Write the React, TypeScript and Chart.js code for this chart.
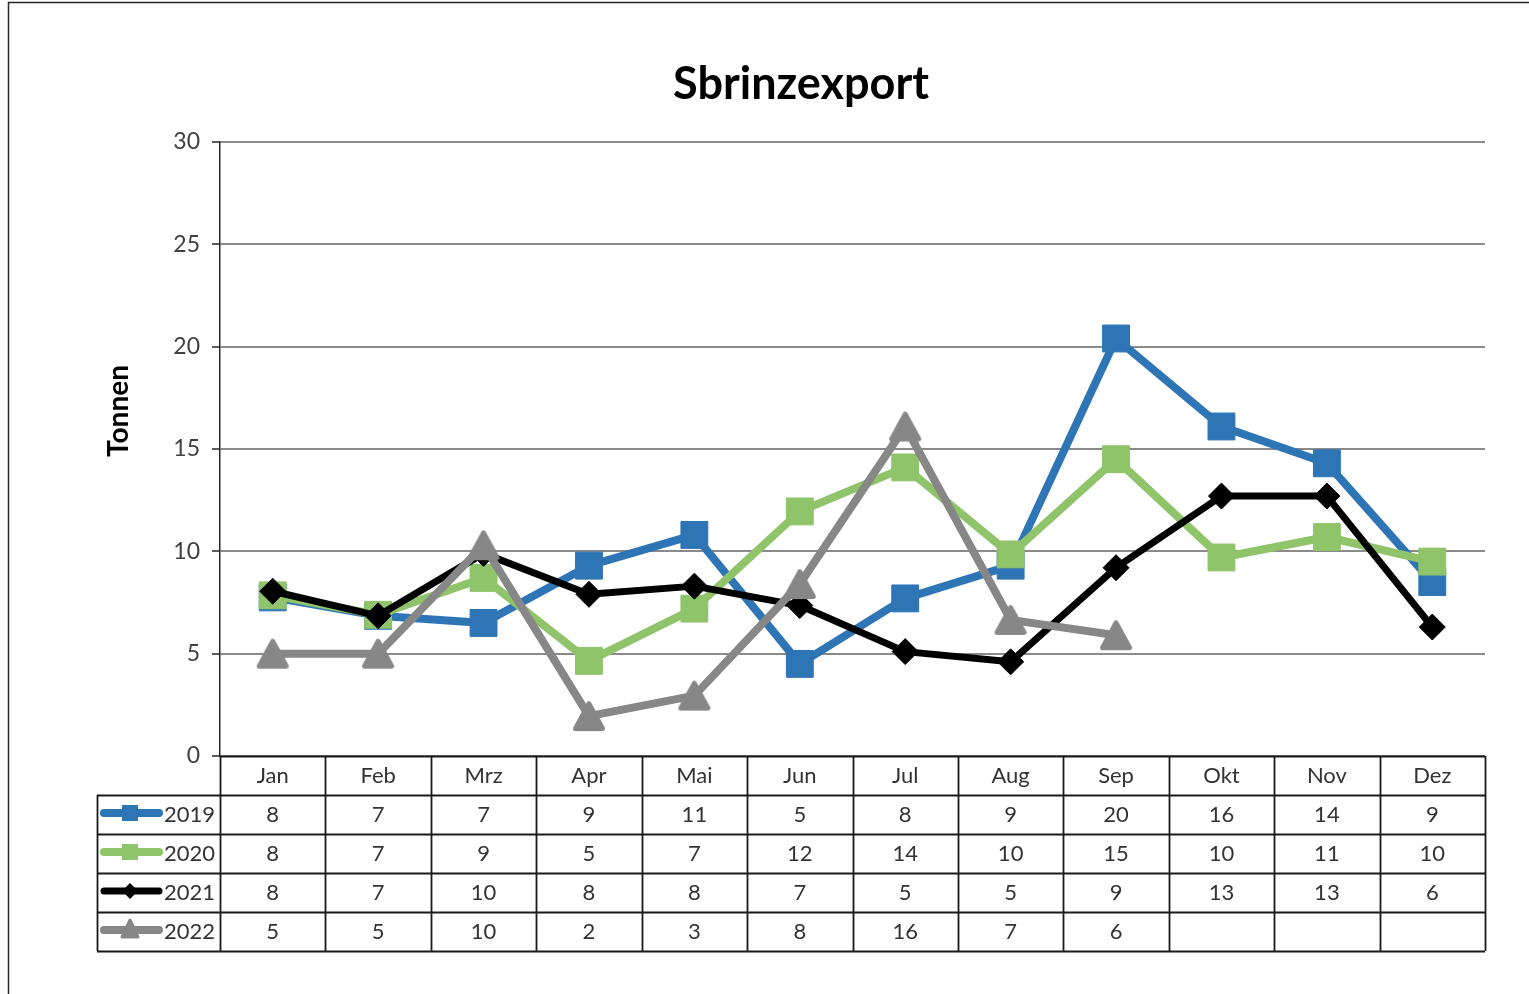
import React, { useEffect, useRef } from "react";
import { Chart, registerables } from "chart.js";

Chart.register(...registerables);

const TITLE = "Sbrinzexport";
const Y_TITLE = "Tonnen";
const months = ["Jan", "Feb", "Mrz", "Apr", "Mai", "Jun", "Jul", "Aug", "Sep", "Okt", "Nov", "Dez"];
const seriesNames = ["2019", "2020", "2021", "2022"];
const values2019 = [7.75, 6.85, 6.5, 9.3, 10.8, 4.5, 7.7, 9.3, 20.4, 16.1, 14.3, 8.5];
const values2020 = [7.85, 6.9, 8.7, 4.65, 7.2, 11.95, 14.1, 9.85, 14.5, 9.7, 10.7, 9.5];
const values2021 = [8.05, 6.85, 9.9, 7.9, 8.3, 7.35, 5.1, 4.6, 9.2, 12.7, 12.7, 6.3];
const values2022 = [5.0, 5.0, 10.3, 1.95, 2.95, 8.4, 16.1, 6.65, 5.9, null, null, null];
const yTicks = [0, 5, 10, 15, 20, 25, 30];

const FONT = "Lato, 'Open Sans', sans-serif";
const BLUE = "#2e75b6";
const GREEN = "#8fc46a";
const BLACK = "#000000";
const GRAY = "#878787";

function makeTriangle(size: number, color: string): HTMLCanvasElement {
  const c = document.createElement("canvas");
  c.width = 38;
  c.height = 38;
  const g = c.getContext("2d")!;
  const cx = 19;
  const h = size * 0.92;
  const w = size;
  const top = 19 - h / 2;
  g.beginPath();
  g.moveTo(cx, top);
  g.lineTo(cx + w / 2, top + h);
  g.lineTo(cx - w / 2, top + h);
  g.closePath();
  g.fillStyle = color;
  g.strokeStyle = color;
  g.lineWidth = 5;
  g.lineJoin = "round";
  g.fill();
  g.stroke();
  return c;
}

export default function App() {
  const ref = useRef<HTMLCanvasElement>(null);

  useEffect(() => {
    const canvas = ref.current!;
    const tri = makeTriangle(27, GRAY);
    const allSeries = [values2019, values2020, values2021, values2022];
    const colors = [BLUE, GREEN, BLACK, GRAY];

    const decor = {
      id: "decor",
      beforeDatasetsDraw(chart: any) {
        chart.ctx.save();
        chart.ctx.lineJoin = "round";
      },
      afterDatasetsDraw(chart: any) {
        chart.ctx.restore();
      },
      afterDraw(chart: any) {
        const ctx = chart.ctx as CanvasRenderingContext2D;
        const area = chart.chartArea;
        const xs = chart.scales.x;
        ctx.save();
        // frame
        ctx.strokeStyle = "#262626";
        ctx.lineWidth = 1.5;
        ctx.beginPath();
        ctx.moveTo(8.5, 994);
        ctx.lineTo(8.5, 2.5);
        ctx.lineTo(1529, 2.5);
        ctx.stroke();

        // title
        ctx.fillStyle = "#000";
        ctx.font = `bold 45px ${FONT}`;
        ctx.textAlign = "center";
        ctx.textBaseline = "middle";
        ctx.fillText(TITLE, 801, 84);

        // y title
        ctx.save();
        ctx.translate(119, 411);
        ctx.rotate(-Math.PI / 2);
        ctx.font = `bold 28px ${FONT}`;
        ctx.fillText(Y_TITLE, 0, 0);
        ctx.restore();

        // data table
        const rowH = 39;
        const top = area.bottom;
        const n = months.length;
        const colW = (area.right - area.left) / n;
        const leftX = 97;
        const bottom = top + rowH * (seriesNames.length + 1);
        ctx.strokeStyle = "#1a1a1a";
        ctx.lineWidth = 1.8;
        ctx.beginPath();
        for (let i = 0; i <= n; i++) {
          const x = Math.round(xs.getPixelForValue(0) - colW / 2 + i * colW) + 0.5;
          ctx.moveTo(x, top);
          ctx.lineTo(x, bottom);
        }
        ctx.moveTo(leftX + 0.5, top + rowH);
        ctx.lineTo(leftX + 0.5, bottom);
        ctx.moveTo(area.left, top + 0.5);
        ctx.lineTo(area.right, top + 0.5);
        for (let r = 1; r <= seriesNames.length + 1; r++) {
          const y = top + r * rowH + 0.5;
          ctx.moveTo(leftX, y);
          ctx.lineTo(area.right, y);
        }
        ctx.stroke();

        ctx.fillStyle = "#333";
        ctx.font = `22px ${FONT}`;
        ctx.textAlign = "center";
        ctx.textBaseline = "middle";
        months.forEach((m, i) => {
          ctx.fillText(m, xs.getPixelForValue(i), top + rowH / 2);
        });
        allSeries.forEach((vals, s) => {
          const cy = top + rowH * (s + 1) + rowH / 2;
          vals.forEach((v, i) => {
            if (v === null || v === undefined) return;
            ctx.fillText(String(Math.round(v)), xs.getPixelForValue(i), cy);
          });
        });

        // legend keys
        allSeries.forEach((_, s) => {
          const cy = top + rowH * (s + 1) + rowH / 2 - 1.5;
          const col = colors[s];
          ctx.strokeStyle = col;
          ctx.fillStyle = col;
          ctx.lineWidth = s === 2 ? 7 : 8;
          ctx.lineCap = "round";
          ctx.beginPath();
          ctx.moveTo(104, cy);
          ctx.lineTo(159, cy);
          ctx.stroke();
          const mx = 130;
          ctx.beginPath();
          if (s < 2) {
            ctx.rect(mx - 8, cy - 8, 16, 16);
          } else if (s === 2) {
            ctx.moveTo(mx, cy - 8);
            ctx.lineTo(mx + 8, cy);
            ctx.lineTo(mx, cy + 8);
            ctx.lineTo(mx - 8, cy);
            ctx.closePath();
          } else {
            ctx.lineJoin = "round";
            ctx.lineWidth = 3;
            ctx.moveTo(mx, cy - 10);
            ctx.lineTo(mx + 8, cy + 7);
            ctx.lineTo(mx - 8, cy + 7);
            ctx.closePath();
            ctx.stroke();
          }
          ctx.fill();
          ctx.fillStyle = "#333";
          ctx.textAlign = "left";
          ctx.font = `22px ${FONT}`;
          ctx.fillText(seriesNames[s], 164, cy + 1.5);
        });
        ctx.restore();
      },
    };

    const mk = (label: string, data: (number | null)[], color: string, order: number, extra: any) => ({
      label,
      data,
      borderColor: color,
      backgroundColor: color,
      pointBackgroundColor: color,
      pointBorderColor: color,
      borderCapStyle: "round",
      borderJoinStyle: "round",
      order,
      spanGaps: false,
      ...extra,
    });

    const chart = new Chart(canvas, {
      type: "line",
      data: {
        labels: months,
        datasets: [
          mk(seriesNames[0], values2019, BLUE, 4, { borderWidth: 8, pointStyle: "rect", pointRadius: 19, pointBorderWidth: 1 }),
          mk(seriesNames[1], values2020, GREEN, 3, { borderWidth: 8, pointStyle: "rect", pointRadius: 19, pointBorderWidth: 1 }),
          mk(seriesNames[2], values2021, BLACK, 2, { borderWidth: 7, pointStyle: "rectRot", pointRadius: 13, pointBorderWidth: 1 }),
          mk(seriesNames[3], values2022, GRAY, 1, { borderWidth: 8, pointStyle: tri, pointRadius: 16 }),
        ] as any,
      },
      options: {
        animation: false,
        responsive: false,
        maintainAspectRatio: false,
        events: [],
        layout: { padding: { left: 0, top: 142, right: 44, bottom: 238 } },
        plugins: {
          legend: { display: false },
          title: { display: false },
          tooltip: { enabled: false },
        },
        scales: {
          x: {
            type: "category",
            offset: true,
            ticks: { display: false },
            grid: { display: false, drawTicks: false },
            border: { display: false },
            afterFit: (s: any) => {
              s.height = 0;
            },
          },
          y: {
            min: 0,
            max: 30,
            afterBuildTicks: (s: any) => {
              s.ticks = yTicks.map((v) => ({ value: v }));
            },
            ticks: {
              font: { family: FONT, size: 23 },
              color: "#404040",
              padding: 12,
            },
            grid: {
              color: "#8a8a8a",
              lineWidth: 2,
              tickLength: 8,
              tickColor: "#262626",
              tickWidth: 1.5,
            },
            border: { display: true, color: "#262626", width: 1.5 },
            afterFit: (s: any) => {
              s.width = 220;
            },
          },
        },
      } as any,
      plugins: [decor],
    });
    return () => chart.destroy();
  }, []);

  return (
    <div style={{ position: "fixed", left: 0, top: 0, width: 1529, height: 994, background: "#fff" }}>
      <canvas ref={ref} width={1529} height={994} style={{ width: 1529, height: 994, display: "block" }} />
    </div>
  );
}
